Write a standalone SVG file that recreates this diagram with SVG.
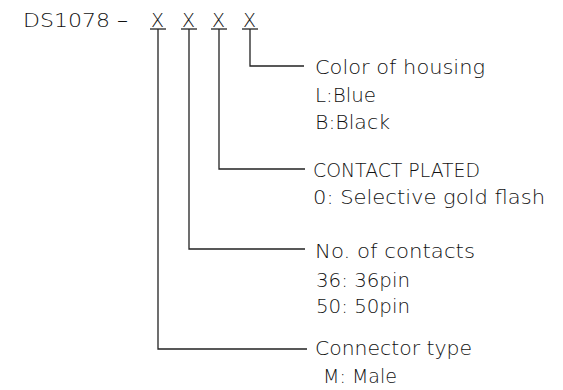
<svg xmlns="http://www.w3.org/2000/svg" width="563" height="390" viewBox="0 0 563 390">
<style>
text{font-family:"DejaVu Sans","Liberation Sans",sans-serif;font-size:19px;font-weight:200;fill:#111}
.c line,.c polyline{stroke:#222;stroke-width:1.3;fill:none}
</style>
<rect width="563" height="390" fill="#fff"/>
<g id="title">
<text x="23" y="27" textLength="105" lengthAdjust="spacingAndGlyphs">DS1078 –</text>
<text x="151" y="27">X</text>
<text x="182" y="27">X</text>
<text x="212" y="27">X</text>
<text x="243" y="27">X</text>
</g>
<g class="c" id="connectors">
<line x1="150" y1="29" x2="166" y2="29"/>
<line x1="181" y1="29" x2="197" y2="29"/>
<line x1="211" y1="29" x2="227" y2="29"/>
<line x1="242" y1="29" x2="258" y2="29"/>
<polyline points="250,29 250,66 304,66"/>
<polyline points="219,29 219,169 305,169"/>
<polyline points="189,29 189,249 305,249"/>
<polyline points="158,29 158,349 307,349"/>
</g>
<g id="housing">
<text x="315" y="74" textLength="170" lengthAdjust="spacingAndGlyphs">Color of housing</text>
<text x="315" y="102" textLength="61" lengthAdjust="spacingAndGlyphs">L:Blue</text>
<text x="315" y="129" textLength="75" lengthAdjust="spacingAndGlyphs">B:Black</text>
</g>
<g id="plated">
<text x="313" y="177" textLength="167" lengthAdjust="spacingAndGlyphs">CONTACT PLATED</text>
<text x="313" y="204" textLength="232" lengthAdjust="spacingAndGlyphs">0: Selective gold flash</text>
</g>
<g id="contacts">
<text x="315" y="258" textLength="160" lengthAdjust="spacingAndGlyphs">No. of contacts</text>
<text x="316" y="287" textLength="94" lengthAdjust="spacingAndGlyphs">36: 36pin</text>
<text x="316" y="313" textLength="94" lengthAdjust="spacingAndGlyphs">50: 50pin</text>
</g>
<g id="type">
<text x="315" y="355" textLength="157" lengthAdjust="spacingAndGlyphs">Connector type</text>
<text x="323" y="383" textLength="74" lengthAdjust="spacingAndGlyphs">M: Male</text>
</g>
</svg>
